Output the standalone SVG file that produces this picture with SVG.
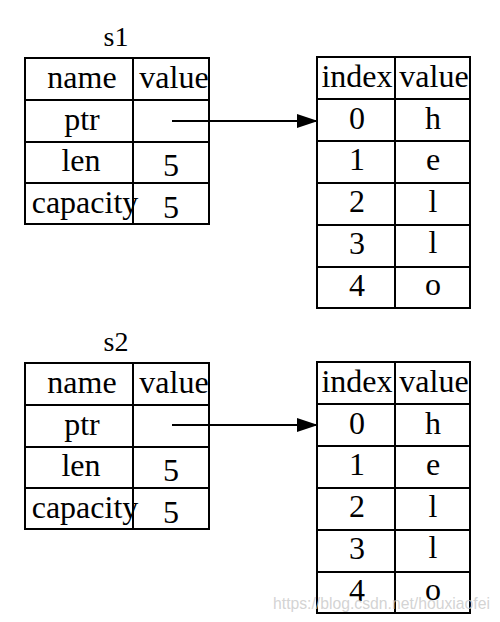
<svg xmlns="http://www.w3.org/2000/svg" width="500" height="622" viewBox="0 0 500 622">
<style>
  .cell { fill: #fff; stroke: #000; stroke-width: 2; }
  .grid { stroke: #000; stroke-width: 2; fill: none; }
  .t { font-family: "Liberation Serif", "Times New Roman", serif; font-size: 32px; fill: #000; text-anchor: middle; }
  .lbl { font-family: "Liberation Serif", "Times New Roman", serif; font-size: 28px; fill: #000; text-anchor: middle; }
  .edge { stroke: #000; stroke-width: 2; fill: none; }
  .wm { font-family: "Liberation Sans", Arial, sans-serif; font-size: 17px; fill: #c8c8c8; fill-opacity: 0.8; }
</style>
<defs>
  <marker id="arrow" viewBox="0 0 21 14" refX="21" refY="7" markerWidth="21" markerHeight="14" markerUnits="userSpaceOnUse" orient="auto">
    <path d="M0,0 L21,7 L0,14 Z" fill="#000"/>
  </marker>
</defs>

<rect width="500" height="622" fill="#fff"/>

<!-- s1 stack table -->
<g id="s1">
  <text class="lbl" x="116" y="46">s1</text>
  <rect class="cell" x="25" y="58" width="184" height="166"/>
  <path class="grid" d="M133,58 V224 M25,100 H209 M25,142 H209 M25,183 H209"/>
  <text class="t" x="82" y="88">name</text>
  <text class="t" x="174" y="88">value</text>
  <text class="t" x="82" y="130">ptr</text>
  <text class="t" x="81" y="171">len</text>
  <text class="t" x="171" y="176">5</text>
  <text class="t" x="85" y="213">capacity</text>
  <text class="t" x="171" y="218">5</text>
</g>

<!-- s1 heap table -->
<g id="heap1">
  <rect class="cell" x="317" y="57" width="153" height="251"/>
  <path class="grid" d="M395,57 V308 M317,99 H470 M317,141 H470 M317,183 H470 M317,225 H470 M317,267 H470"/>
  <text class="t" x="357" y="87">index</text>
  <text class="t" x="434" y="87">value</text>
  <text class="t" x="357" y="129">0</text>
  <text class="t" x="433" y="129">h</text>
  <text class="t" x="357" y="170">1</text>
  <text class="t" x="433" y="170">e</text>
  <text class="t" x="357" y="212">2</text>
  <text class="t" x="433" y="212">l</text>
  <text class="t" x="357" y="254">3</text>
  <text class="t" x="433" y="253">l</text>
  <text class="t" x="357" y="296">4</text>
  <text class="t" x="433" y="295">o</text>
</g>

<!-- s2 stack table -->
<g id="s2">
  <text class="lbl" x="116" y="351">s2</text>
  <rect class="cell" x="25" y="363" width="184" height="166"/>
  <path class="grid" d="M133,363 V529 M25,405 H209 M25,447 H209 M25,488 H209"/>
  <text class="t" x="82" y="393">name</text>
  <text class="t" x="174" y="393">value</text>
  <text class="t" x="82" y="435">ptr</text>
  <text class="t" x="81" y="476">len</text>
  <text class="t" x="171" y="481">5</text>
  <text class="t" x="85" y="518">capacity</text>
  <text class="t" x="171" y="523">5</text>
</g>

<!-- s2 heap table -->
<g id="heap2">
  <rect class="cell" x="317" y="362" width="153" height="251"/>
  <path class="grid" d="M395,362 V613 M317,404 H470 M317,446 H470 M317,488 H470 M317,530 H470 M317,572 H470"/>
  <text class="t" x="357" y="392">index</text>
  <text class="t" x="434" y="392">value</text>
  <text class="t" x="357" y="434">0</text>
  <text class="t" x="433" y="434">h</text>
  <text class="t" x="357" y="475">1</text>
  <text class="t" x="433" y="475">e</text>
  <text class="t" x="357" y="517">2</text>
  <text class="t" x="433" y="517">l</text>
  <text class="t" x="357" y="559">3</text>
  <text class="t" x="433" y="558">l</text>
  <text class="t" x="357" y="601">4</text>
  <text class="t" x="433" y="600">o</text>
</g>

<!-- connectors -->
<g id="connectors">
  <line class="edge" x1="172" y1="121" x2="318" y2="121" marker-end="url(#arrow)"/>
  <line class="edge" x1="172" y1="425" x2="318" y2="425" marker-end="url(#arrow)"/>
</g>

<text class="wm" x="273" y="609" textLength="217" lengthAdjust="spacingAndGlyphs">https://blog.csdn.net/houxiaofei</text>
</svg>
